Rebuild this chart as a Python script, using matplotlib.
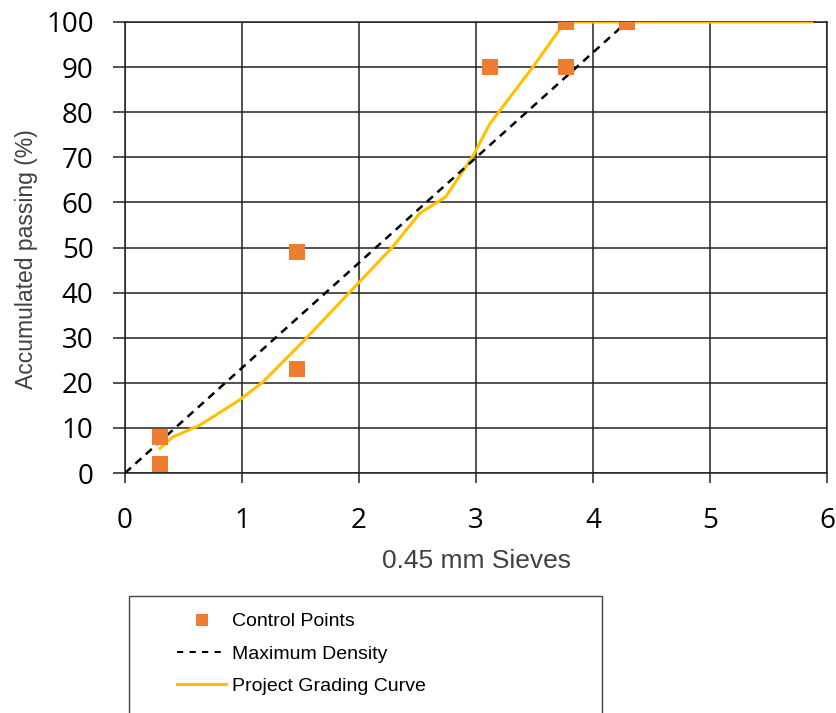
import matplotlib
matplotlib.use("Agg")
import matplotlib.pyplot as plt
from matplotlib.patches import Rectangle
from matplotlib.lines import Line2D

# Control points (x = sieve size ^0.45, y = % passing)
ctrl_x = [0.30, 0.30, 1.47, 1.47, 3.12, 3.77, 3.77, 4.29]
ctrl_y = [8, 2, 49, 23, 90, 100, 90, 100]

# Maximum density line
maxd_x = [0.0, 4.29]
maxd_y = [0, 100]

# Project grading curve
curve_x = [0.30, 0.41, 0.64, 0.98, 1.18, 1.55, 1.91, 2.29, 2.52, 2.74, 2.97, 3.12, 3.50, 3.76, 5.87]
curve_y = [5.5, 8.0, 10.6, 16.2, 20.2, 29.9, 39.8, 50.2, 57.6, 61.2, 70.1, 77.5, 90.5, 100, 100]

x_ticks = [0, 1, 2, 3, 4, 5, 6]
y_ticks = [0, 10, 20, 30, 40, 50, 60, 70, 80, 90, 100]

ORANGE = "#ED7D31"
GOLD = "#FFC000"
GRID = "#222222"

fig = plt.figure(figsize=(8.37, 7.13), dpi=100)
ax = fig.add_axes([125 / 837, 1 - 473 / 713, 702 / 837, 451 / 713])

ax.plot(curve_x, curve_y, color=GOLD, lw=2.2, zorder=3)
ax.plot(maxd_x, maxd_y, color="black", lw=1.8, dashes=(3.2, 2.4), zorder=4)
ax.scatter(ctrl_x, ctrl_y, marker="s", s=120, color=ORANGE, linewidths=0, zorder=5)

ax.set_xlim(0, 6)
ax.set_ylim(0, 100)
ax.set_xticks(x_ticks)
ax.set_yticks(y_ticks)
ax.grid(True, color=GRID, lw=1.1)
ax.set_axisbelow(True)
for s in ax.spines.values():
    s.set_color(GRID)
    s.set_linewidth(1.1)

ax.tick_params(axis="both", direction="out", width=1.1, color=GRID,
               labelsize=20, labelcolor="black")
ax.tick_params(axis="y", length=8.6, pad=14)
ax.tick_params(axis="x", length=7.2, pad=17)
for lab in ax.get_xticklabels() + ax.get_yticklabels():
    lab.set_fontfamily("Open Sans")

ax.set_ylabel("Accumulated passing (%)", fontsize=16.5, color="#404040",
              fontfamily="Liberation Sans")
ax.yaxis.set_label_coords(-0.124, 0.4745)
ax.set_xlabel("0.45 mm Sieves", fontsize=19, color="#404040",
              fontfamily="Liberation Sans", labelpad=10)

# Legend box (cut at the bottom edge like the source)
fig.patches.append(Rectangle((129 / 837, -0.05), 473 / 837, 1 - 596 / 713 + 0.05,
                             transform=fig.transFigure, fill=False,
                             edgecolor="#444444", lw=1.0))

handles = [
    Line2D([], [], marker="s", ls="none", color=ORANGE, markersize=8.5, markeredgewidth=0),
    Line2D([], [], color="black", lw=1.5, dashes=(3.0, 3.0)),
    Line2D([], [], color=GOLD, lw=2.2),
]
labels = ["Control Points", "Maximum Density", "Project Grading Curve"]
fig.legend(handles, labels, loc="upper left", bbox_to_anchor=(167 / 837, 1 - 603 / 713),
           frameon=False, handlelength=2.55, handletextpad=0.3, labelspacing=0.75,
           borderpad=0, prop={"family": "Liberation Sans", "size": 14})

fig.savefig("out.png", dpi=100)
